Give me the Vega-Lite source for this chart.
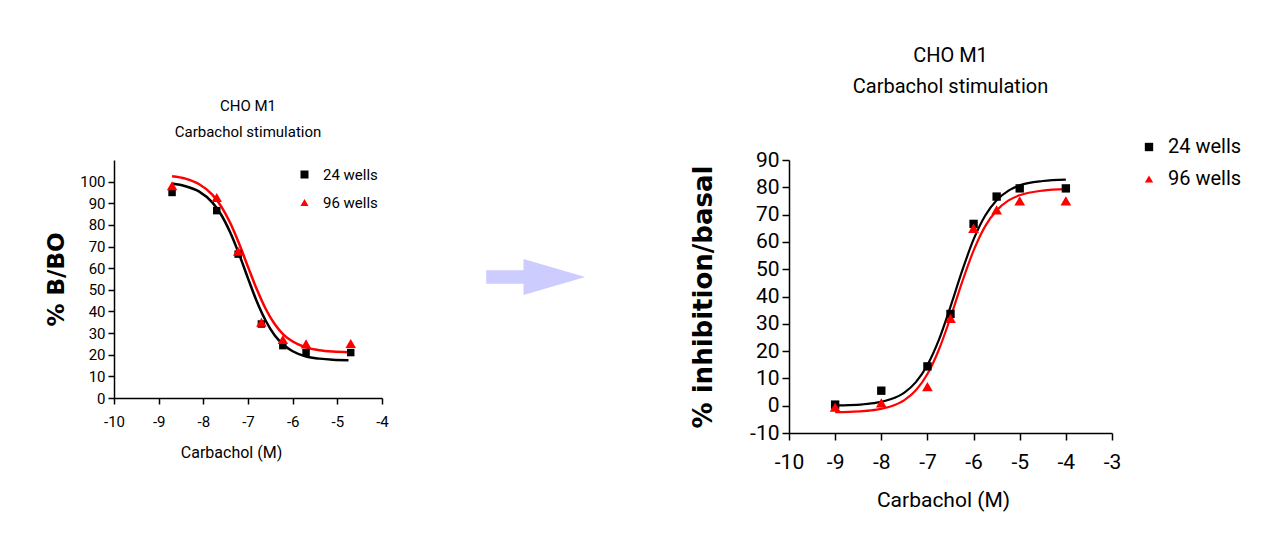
{
  "$schema": "https://vega.github.io/schema/vega-lite/v6.json",
  "padding": {"left": 45, "top": 46, "right": 5, "bottom": 5},
  "background": "white",
  "datasets": {
    "leftPts": [
      {"logc": -8.7, "value": 95.0, "series": "24 wells"},
      {"logc": -7.7, "value": 86.6, "series": "24 wells"},
      {"logc": -7.22, "value": 66.5, "series": "24 wells"},
      {"logc": -6.7, "value": 34.2, "series": "24 wells"},
      {"logc": -6.22, "value": 24.2, "series": "24 wells"},
      {"logc": -5.7, "value": 21.0, "series": "24 wells"},
      {"logc": -4.7, "value": 21.0, "series": "24 wells"},
      {"logc": -8.7, "value": 98.1, "series": "96 wells"},
      {"logc": -7.7, "value": 92.7, "series": "96 wells"},
      {"logc": -7.22, "value": 67.8, "series": "96 wells"},
      {"logc": -6.7, "value": 35.0, "series": "96 wells"},
      {"logc": -6.22, "value": 27.0, "series": "96 wells"},
      {"logc": -5.7, "value": 25.0, "series": "96 wells"},
      {"logc": -4.7, "value": 25.2, "series": "96 wells"}
    ],
    "leftCurve": [
      {"logc": -8.7, "value": 99.1, "series": "24 wells"},
      {"logc": -8.4, "value": 97.9, "series": "24 wells"},
      {"logc": -8.1, "value": 95.5, "series": "24 wells"},
      {"logc": -7.8, "value": 90.4, "series": "24 wells"},
      {"logc": -7.6, "value": 84.7, "series": "24 wells"},
      {"logc": -7.4, "value": 76.6, "series": "24 wells"},
      {"logc": -7.2, "value": 66.5, "series": "24 wells"},
      {"logc": -7.0, "value": 55.3, "series": "24 wells"},
      {"logc": -6.8, "value": 44.5, "series": "24 wells"},
      {"logc": -6.6, "value": 35.6, "series": "24 wells"},
      {"logc": -6.4, "value": 28.9, "series": "24 wells"},
      {"logc": -6.2, "value": 24.5, "series": "24 wells"},
      {"logc": -6.0, "value": 21.6, "series": "24 wells"},
      {"logc": -5.7, "value": 19.2, "series": "24 wells"},
      {"logc": -5.4, "value": 18.2, "series": "24 wells"},
      {"logc": -5.1, "value": 17.7, "series": "24 wells"},
      {"logc": -4.75, "value": 17.5, "series": "24 wells"},
      {"logc": -8.7, "value": 102.5, "series": "96 wells"},
      {"logc": -8.4, "value": 101.4, "series": "96 wells"},
      {"logc": -8.1, "value": 98.9, "series": "96 wells"},
      {"logc": -7.8, "value": 94.0, "series": "96 wells"},
      {"logc": -7.6, "value": 88.6, "series": "96 wells"},
      {"logc": -7.4, "value": 81.0, "series": "96 wells"},
      {"logc": -7.2, "value": 71.4, "series": "96 wells"},
      {"logc": -7.0, "value": 60.6, "series": "96 wells"},
      {"logc": -6.8, "value": 50.1, "series": "96 wells"},
      {"logc": -6.6, "value": 41.0, "series": "96 wells"},
      {"logc": -6.4, "value": 34.1, "series": "96 wells"},
      {"logc": -6.2, "value": 29.2, "series": "96 wells"},
      {"logc": -6.0, "value": 26.1, "series": "96 wells"},
      {"logc": -5.7, "value": 23.4, "series": "96 wells"},
      {"logc": -5.4, "value": 22.1, "series": "96 wells"},
      {"logc": -5.1, "value": 21.5, "series": "96 wells"},
      {"logc": -4.75, "value": 21.2, "series": "96 wells"}
    ],
    "rightPts": [
      {"logc": -9, "value": 0.4, "series": "24 wells"},
      {"logc": -8, "value": 5.5, "series": "24 wells"},
      {"logc": -7, "value": 14.4, "series": "24 wells"},
      {"logc": -6.5, "value": 33.6, "series": "24 wells"},
      {"logc": -6, "value": 66.6, "series": "24 wells"},
      {"logc": -5.5, "value": 76.6, "series": "24 wells"},
      {"logc": -5, "value": 79.6, "series": "24 wells"},
      {"logc": -4, "value": 79.6, "series": "24 wells"},
      {"logc": -9, "value": -0.5, "series": "96 wells"},
      {"logc": -8, "value": 1.0, "series": "96 wells"},
      {"logc": -7, "value": 7.0, "series": "96 wells"},
      {"logc": -6.5, "value": 32.0, "series": "96 wells"},
      {"logc": -6, "value": 65.0, "series": "96 wells"},
      {"logc": -5.5, "value": 71.7, "series": "96 wells"},
      {"logc": -5, "value": 75.0, "series": "96 wells"},
      {"logc": -4, "value": 75.0, "series": "96 wells"}
    ],
    "rightCurve": [
      {"logc": -9, "value": 0.11, "series": "24 wells"},
      {"logc": -8.7, "value": 0.24, "series": "24 wells"},
      {"logc": -8.4, "value": 0.52, "series": "24 wells"},
      {"logc": -8.1, "value": 1.10, "series": "24 wells"},
      {"logc": -7.8, "value": 2.33, "series": "24 wells"},
      {"logc": -7.5, "value": 4.82, "series": "24 wells"},
      {"logc": -7.25, "value": 8.64, "series": "24 wells"},
      {"logc": -7, "value": 14.9, "series": "24 wells"},
      {"logc": -6.75, "value": 24.2, "series": "24 wells"},
      {"logc": -6.5, "value": 36.3, "series": "24 wells"},
      {"logc": -6.25, "value": 49.3, "series": "24 wells"},
      {"logc": -6, "value": 60.9, "series": "24 wells"},
      {"logc": -5.75, "value": 69.6, "series": "24 wells"},
      {"logc": -5.5, "value": 75.3, "series": "24 wells"},
      {"logc": -5.25, "value": 78.7, "series": "24 wells"},
      {"logc": -5, "value": 80.7, "series": "24 wells"},
      {"logc": -4.5, "value": 82.3, "series": "24 wells"},
      {"logc": -4, "value": 82.8, "series": "24 wells"},
      {"logc": -9, "value": -2.39, "series": "96 wells"},
      {"logc": -8.7, "value": -2.27, "series": "96 wells"},
      {"logc": -8.4, "value": -2.01, "series": "96 wells"},
      {"logc": -8.1, "value": -1.46, "series": "96 wells"},
      {"logc": -7.8, "value": -0.31, "series": "96 wells"},
      {"logc": -7.5, "value": 2.04, "series": "96 wells"},
      {"logc": -7.25, "value": 5.65, "series": "96 wells"},
      {"logc": -7, "value": 11.6, "series": "96 wells"},
      {"logc": -6.75, "value": 20.6, "series": "96 wells"},
      {"logc": -6.5, "value": 32.3, "series": "96 wells"},
      {"logc": -6.25, "value": 45.2, "series": "96 wells"},
      {"logc": -6, "value": 56.8, "series": "96 wells"},
      {"logc": -5.75, "value": 65.7, "series": "96 wells"},
      {"logc": -5.5, "value": 71.5, "series": "96 wells"},
      {"logc": -5.25, "value": 75.1, "series": "96 wells"},
      {"logc": -5, "value": 77.1, "series": "96 wells"},
      {"logc": -4.5, "value": 78.8, "series": "96 wells"},
      {"logc": -4, "value": 79.3, "series": "96 wells"}
    ],
    "arrow": [
      {"item": "arrow"}
    ]
  },
  "bounds": "flush",
  "spacing": 60,
  "resolve": {"scale": {"color": "independent", "shape": "independent"}},
  "hconcat": [
    {
      "width": 268,
      "height": 238,
      "title": {
        "text": ["CHO M1", "Carbachol stimulation"],
        "font": "Roboto",
        "fontSize": 15,
        "fontWeight": "normal",
        "lineHeight": 26,
        "offset": 20,
        "anchor": "middle",
        "color": "#000000"
      },
      "layer": [
        {
          "data": {"name": "leftCurve"},
          "transform": [{"filter": "datum.series == '24 wells'"}],
          "mark": {"type": "line", "strokeWidth": 2.5, "interpolate": "monotone", "color": "#000000"},
          "encoding": {
            "x": {
              "field": "logc", "type": "quantitative",
              "scale": {"domain": [-10, -4], "nice": false, "zero": false},
              "axis": {
                "title": "Carbachol (M)",
                "values": [-10, -9, -8, -7, -6, -5, -4],
                "tickCount": 20,
                "labelExpr": "'' + datum.value",
                "labelFontSize": 15,
                "labelPadding": 10,
                "tickSize": 6,
                "titleFontSize": 16,
                "titlePadding": 15,
                "titleX": 117
              }
            },
            "y": {
              "field": "value", "type": "quantitative",
              "scale": {"domain": [0, 110], "nice": false, "zero": false},
              "axis": {
                "title": "% B/BO",
                "values": [0, 10, 20, 30, 40, 50, 60, 70, 80, 90, 100],
                "tickCount": 20,
                "labelExpr": "'' + datum.value",
                "labelFontSize": 15,
                "labelPadding": 3,
                "tickSize": 6,
                "titleFont": "DejaVu Sans",
                "titleFontWeight": "bold",
                "titleFontSize": 23,
                "titlePadding": 11
              }
            }
          }
        },
        {
          "data": {"name": "leftCurve"},
          "transform": [{"filter": "datum.series == '96 wells'"}],
          "mark": {"type": "line", "strokeWidth": 2.5, "interpolate": "monotone", "color": "#FF0000"},
          "encoding": {
            "x": {"field": "logc", "type": "quantitative"},
            "y": {"field": "value", "type": "quantitative"}
          }
        },
        {
          "data": {"name": "leftPts"},
          "transform": [{"filter": "datum.series == '24 wells'"}],
          "mark": {"type": "point", "filled": true, "opacity": 1, "strokeWidth": 0, "size": 56},
          "encoding": {
            "x": {"field": "logc", "type": "quantitative"},
            "y": {"field": "value", "type": "quantitative"},
            "color": {
              "field": "series", "type": "nominal",
              "scale": {"domain": ["24 wells", "96 wells"], "range": ["#000000", "#FF0000"]},
              "legend": {
                "orient": "none", "legendX": 183, "legendY": 7, "title": null,
                "labelFontSize": 15, "labelOffset": 11, "rowPadding": 12, "symbolSize": 64,
                "padding": 0
              }
            },
            "shape": {
              "field": "series", "type": "nominal",
              "scale": {"domain": ["24 wells", "96 wells"], "range": ["square", "triangle-up"]},
              "legend": {
                "orient": "none", "legendX": 183, "legendY": 7, "title": null,
                "labelFontSize": 15, "labelOffset": 11, "rowPadding": 12, "symbolSize": 64,
                "padding": 0
              }
            }
          }
        },
        {
          "data": {"name": "leftPts"},
          "transform": [{"filter": "datum.series == '96 wells'"}],
          "mark": {"type": "point", "filled": true, "opacity": 1, "strokeWidth": 0, "size": 110},
          "encoding": {
            "x": {"field": "logc", "type": "quantitative"},
            "y": {"field": "value", "type": "quantitative"},
            "color": {"field": "series", "type": "nominal"},
            "shape": {"field": "series", "type": "nominal"}
          }
        }
      ]
    },
    {
      "width": 287,
      "height": 234,
      "data": {"name": "arrow"},
      "mark": {
        "type": "point",
        "shape": "M-1.986,-0.135L-1.24,-0.135L-1.24,-0.36L-0.006,0L-1.24,0.36L-1.24,0.135L-1.986,0.135Z",
        "size": 10000,
        "filled": true,
        "opacity": 1,
        "color": "#CCCCFF",
        "strokeWidth": 0
      },
      "encoding": {}
    },
    {
      "width": 323,
      "height": 273,
      "title": {
        "text": ["CHO M1", "Carbachol stimulation"],
        "font": "Roboto",
        "fontSize": 20,
        "fontWeight": "normal",
        "lineHeight": 31,
        "offset": 40,
        "anchor": "middle",
        "color": "#000000"
      },
      "layer": [
        {
          "data": {"name": "rightCurve"},
          "transform": [{"filter": "datum.series == '24 wells'"}],
          "mark": {"type": "line", "strokeWidth": 2.2, "interpolate": "monotone", "color": "#000000"},
          "encoding": {
            "x": {
              "field": "logc", "type": "quantitative",
              "scale": {"domain": [-10, -3], "nice": false, "zero": false},
              "axis": {
                "title": "Carbachol (M)",
                "values": [-10, -9, -8, -7, -6, -5, -4, -3],
                "tickCount": 20,
                "labelExpr": "'' + datum.value",
                "labelFontSize": 21,
                "labelPadding": 11,
                "tickSize": 7,
                "titleFontSize": 21,
                "titlePadding": 17,
                "titleX": 154
              }
            },
            "y": {
              "field": "value", "type": "quantitative",
              "scale": {"domain": [-10, 90], "nice": false, "zero": false},
              "axis": {
                "title": "% inhibition/basal",
                "values": [-10, 0, 10, 20, 30, 40, 50, 60, 70, 80, 90],
                "tickCount": 20,
                "labelExpr": "'' + datum.value",
                "labelFontSize": 21,
                "labelPadding": 3,
                "tickSize": 7,
                "titleFont": "DejaVu Sans",
                "titleFontWeight": "bold",
                "titleFontSize": 26,
                "titlePadding": 33
              }
            }
          }
        },
        {
          "data": {"name": "rightCurve"},
          "transform": [{"filter": "datum.series == '96 wells'"}],
          "mark": {"type": "line", "strokeWidth": 2.2, "interpolate": "monotone", "color": "#FF0000"},
          "encoding": {
            "x": {"field": "logc", "type": "quantitative"},
            "y": {"field": "value", "type": "quantitative"}
          }
        },
        {
          "data": {"name": "rightPts"},
          "transform": [{"filter": "datum.series == '24 wells'"}],
          "mark": {"type": "point", "filled": true, "opacity": 1, "strokeWidth": 0, "size": 70},
          "encoding": {
            "x": {"field": "logc", "type": "quantitative"},
            "y": {"field": "value", "type": "quantitative"},
            "color": {
              "field": "series", "type": "nominal",
              "scale": {"domain": ["24 wells", "96 wells"], "range": ["#000000", "#FF0000"]},
              "legend": {
                "orient": "none", "legendX": 350, "legendY": -23, "title": null,
                "labelFontSize": 20, "labelOffset": 9, "rowPadding": 12, "symbolSize": 70,
                "padding": 0
              }
            },
            "shape": {
              "field": "series", "type": "nominal",
              "scale": {"domain": ["24 wells", "96 wells"], "range": ["square", "triangle-up"]},
              "legend": {
                "orient": "none", "legendX": 350, "legendY": -23, "title": null,
                "labelFontSize": 20, "labelOffset": 9, "rowPadding": 12, "symbolSize": 70,
                "padding": 0
              }
            }
          }
        },
        {
          "data": {"name": "rightPts"},
          "transform": [{"filter": "datum.series == '96 wells'"}],
          "mark": {"type": "point", "filled": true, "opacity": 1, "strokeWidth": 0, "size": 115},
          "encoding": {
            "x": {"field": "logc", "type": "quantitative"},
            "y": {"field": "value", "type": "quantitative"},
            "color": {"field": "series", "type": "nominal"},
            "shape": {"field": "series", "type": "nominal"}
          }
        }
      ]
    }
  ],
  "config": {
    "view": {"stroke": null},
    "font": "Roboto",
    "axis": {
      "grid": false,
      "domainColor": "#000000",
      "domainWidth": 1.5,
      "tickColor": "#000000",
      "tickWidth": 1.5,
      "labelColor": "#000000",
      "titleColor": "#000000",
      "labelFont": "Roboto",
      "titleFont": "Roboto",
      "titleFontWeight": "normal",
      "labelFlush": false,
      "labelOverlap": false
    },
    "legend": {
      "labelFont": "Roboto",
      "labelColor": "#000000"
    }
  }
}
